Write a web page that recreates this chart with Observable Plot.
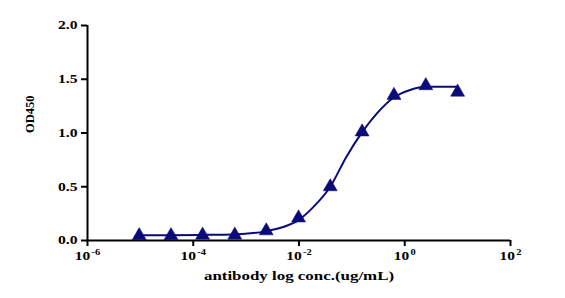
<!DOCTYPE html>
<html><head><meta charset="utf-8">
<script src="https://cdn.jsdelivr.net/npm/d3@7"></script>
<script src="https://cdn.jsdelivr.net/npm/@observablehq/plot@0.6"></script>
<style>
body{margin:0;background:#fff;}
</style></head>
<body><div id="chart"></div>
<script>
// measured points (ug/mL, OD450)
const conc = [9.5e-6, 3.8e-5, 1.5e-4, 6.1e-4, 2.4e-3, 9.8e-3, 0.039, 0.156, 0.625, 2.5, 10];
const od   = [0.045, 0.045, 0.05, 0.05, 0.09, 0.21, 0.50, 1.01, 1.35, 1.44, 1.38];
// fitted curve
const curveConc = [9.5e-6, 3.8e-5, 1.5e-4, 5.7e-4, 2.3e-3, 5.0e-3, 9.8e-3, 0.0186, 0.039, 0.079, 0.158, 0.295, 0.62, 1.26, 2.5, 10];
const curveOd   = [0.05, 0.05, 0.052, 0.056, 0.085, 0.125, 0.19, 0.31, 0.50, 0.78, 1.01, 1.18, 1.33, 1.40, 1.43, 1.43];
const xTicks = [1e-6, 1e-4, 1e-2, 1, 1e2];
const yTicks = [0, 0.5, 1.0, 1.5, 2.0];
const xLabel = "antibody log conc.(ug/mL)";
const yLabel = "OD450";

const pts = conc.map((c, i) => ({c, v: od[i]}));
const fit = curveConc.map((c, i) => ({c, v: curveOd[i]}));
const navy = "#0a0a7a";
const serif = "'Liberation Serif', 'Times New Roman', serif";

const chart = Plot.plot({
  width: 565, height: 298,
  marginLeft: 87, marginRight: 55, marginTop: 25, marginBottom: 58,
  style: {fontFamily: serif, fontSize: "12px", fontWeight: "bold", background: "#fff", overflow: "visible"},
  x: {type: "log", domain: [1e-6, 1e2], label: null},
  y: {domain: [0, 2], label: null},
  marks: [
    Plot.axisX({ticks: xTicks, tickFormat: d => "10^" + Math.round(Math.log10(d)), tickSize: 6, tickPadding: 5, strokeWidth: 2, stroke: "#000", fill: "#000", fontSize: 12.5, label: null}),
    Plot.axisY({ticks: yTicks, tickFormat: d3.format(".1f"), tickSize: 6, tickPadding: 4, strokeWidth: 2, stroke: "#000", fill: "#000", fontSize: 12, label: null}),
    Plot.ruleX([1e-6], {y1: 0, y2: 2, stroke: "#000", strokeWidth: 2}),
    Plot.ruleY([0], {stroke: "#000", strokeWidth: 2}),
    Plot.line(fit, {x: "c", y: "v", curve: "monotone-x", stroke: navy, strokeWidth: 2}),
    Plot.dot(pts, {x: "c", y: "v", symbol: "triangle", r: 5.2, fill: navy, stroke: navy, strokeWidth: 0.5}),
    Plot.text([xLabel], {frameAnchor: "bottom", dy: 39, text: d => d, fontSize: 13, fill: "#000"}),
    Plot.text([yLabel], {frameAnchor: "left", dx: -58, rotate: -90, text: d => d, fontSize: 12.5, fill: "#000"})
  ]
});

// render superscript exponents
d3.select(chart).selectAll("g[aria-label='x-axis tick label'] text").each(function() {
  const t = this.textContent;
  if (t.startsWith("10^")) {
    const e = t.slice(3);
    const sel = d3.select(this);
    sel.text("");
    sel.append("tspan").text("10");
    sel.append("tspan").attr("dy", "-5").attr("font-size", "8.5").attr("dx", "1").text(e);
  }
});
d3.select(chart).selectAll("text").style("font-family", serif).style("font-weight", "bold");
document.getElementById("chart").appendChild(chart);
// the reference type is horizontally stretched: widen the horizontal labels
d3.select(chart).selectAll("text").each(function() {
  if (this.getAttribute("transform") && this.getAttribute("transform").includes("rotate")) return;
  const len = this.getComputedTextLength();
  if (len > 0) {
    this.setAttribute("textLength", (len * 1.3).toFixed(1));
    this.setAttribute("lengthAdjust", "spacingAndGlyphs");
  }
});
</script></body></html>
